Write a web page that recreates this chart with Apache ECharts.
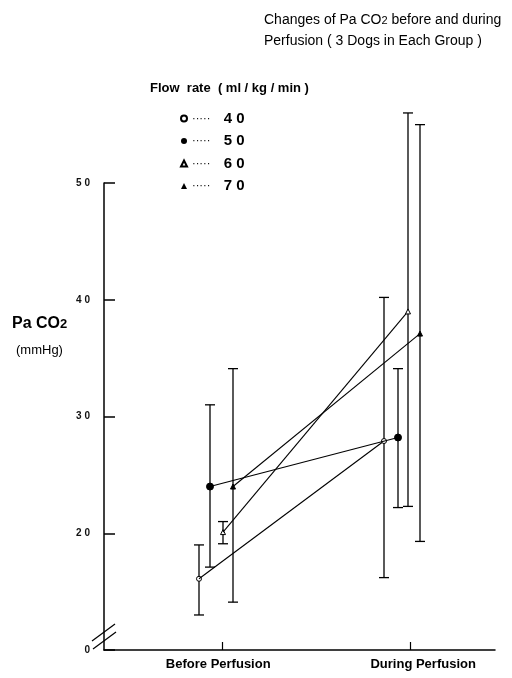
<!DOCTYPE html>
<html>
<head>
<meta charset="utf-8">
<script src="https://cdn.jsdelivr.net/npm/echarts@6/dist/echarts.min.js"></script>
<style>html,body{margin:0;padding:0;background:#fff}#c{width:512px;height:678px}</style>
</head>
<body>
<div id="c"></div>
<script>
// ---- data ----
const categories = ['Before Perfusion', 'During Perfusion'];
const flowRates = ['40', '50', '60', '70'];
const mean40 = [16.1, 27.9], low40 = [13.0, 16.2], high40 = [19.0, 40.2];
const mean50 = [24.0, 28.2], low50 = [17.1, 22.2], high50 = [31.0, 34.1];
const mean60 = [20.1, 39.0], low60 = [19.1, 22.3], high60 = [21.0, 56.0];
const mean70 = [24.0, 37.1], low70 = [14.1, 19.3], high70 = [34.1, 55.0];
const yTickValues = [10, 20, 30, 40, 50];
const yTickLabels = ['0', '20', '30', '40', '50'];

// ---- layout / style (not data) ----
const offsetsPx = { '40': [-23, -26], '50': [-12, -12], '60': [1, -2], '70': [11, 10] };
const symbols = { '40': 'emptyCircle', '50': 'circle', '60': 'emptyTriangle', '70': 'triangle' };
const symbolSizes = { '40': 5, '50': 7, '60': 5, '70': 5 };
const groups = {
  '40': [mean40, low40, high40],
  '50': [mean50, low50, high50],
  '60': [mean60, low60, high60],
  '70': [mean70, low70, high70]
};

const chart = echarts.init(document.getElementById('c'), null, { renderer: 'canvas' });

function makeSeries(rate) {
  const [m, lo, hi] = groups[rate];
  const data = categories.map((c, i) => [i + 1, m[i], lo[i], hi[i]]);
  return {
    name: rate,
    type: 'custom',
    clip: false,
    itemStyle: { color: '#000' },
    encode: { x: 0, y: 1 },
    data: data,
    z: 5,
    renderItem: function (params, api) {
      const i = params.dataIndex;
      const off = offsetsPx[rate][i];
      const p = api.coord([api.value(0), api.value(1)]);
      const pl = api.coord([api.value(0), api.value(2)]);
      const ph = api.coord([api.value(0), api.value(3)]);
      const x = p[0] + off;
      const cap = 5;
      const ls = { stroke: '#000', lineWidth: 1.3 };
      const children = [];
      if (i === 1) {
        const p0 = api.coord([1, m[0]]);
        children.push({ type: 'line', shape: { x1: p0[0] + offsetsPx[rate][0], y1: p0[1], x2: x, y2: p[1] }, style: { stroke: '#000', lineWidth: 1.1 } });
      }
      children.push({ type: 'line', shape: { x1: x, y1: ph[1], x2: x, y2: pl[1] }, style: ls });
      children.push({ type: 'line', shape: { x1: x - cap, y1: ph[1], x2: x + cap, y2: ph[1] }, style: ls });
      children.push({ type: 'line', shape: { x1: x - cap, y1: pl[1], x2: x + cap, y2: pl[1] }, style: ls });
      const sym = symbols[rate];
      const sz = symbolSizes[rate];
      const empty = sym.indexOf('empty') === 0;
      const shapeName = empty ? sym.slice(5).toLowerCase() : sym;
      if (shapeName === 'circle') {
        children.push({ type: 'circle', shape: { cx: x, cy: p[1], r: sz / 2 }, style: { fill: empty ? '#fff' : '#000', stroke: '#000', lineWidth: 1 } });
      } else {
        const h = sz;
        children.push({ type: 'polygon', shape: { points: [[x, p[1] - h / 2], [x + h / 2, p[1] + h / 2], [x - h / 2, p[1] + h / 2]] }, style: { fill: empty ? '#fff' : '#000', stroke: '#000', lineWidth: 1 } });
      }
      return { type: 'group', children: children };
    }
  };
}

const gridLeft = 104, gridRight = 17, plotW = 512 - gridLeft - gridRight;
const unitPx = 188, firstCatPx = 222;
const xMin = 1 - (firstCatPx - gridLeft) / unitPx;
const xMax = xMin + plotW / unitPx;

const option = {
  animation: false,
  backgroundColor: '#fff',
  textStyle: { fontFamily: 'Liberation Sans' },
  grid: { left: gridLeft, right: gridRight, top: 183, bottom: 28 },
  legend: {
    orient: 'vertical',
    left: 175,
    top: 106,
    itemWidth: 6,
    itemHeight: 6,
    itemGap: 7.5,
    data: flowRates.map(r => ({ name: r, icon: symbols[r] })),
    formatter: function (name) { return '{d|·····}    {n|' + name.split('').join(' ') + '}'; },
    textStyle: {
      color: '#000',
      rich: {
        d: { fontSize: 11, color: '#000', lineHeight: 16 },
        n: { fontSize: 15, fontWeight: 'bold', color: '#000', lineHeight: 16 }
      }
    },
    selectedMode: false
  },
  xAxis: {
    type: 'value',
    min: xMin,
    max: xMax,
    splitLine: { show: false },
    axisLine: { show: true, lineStyle: { color: '#000', width: 1.5 } },
    axisTick: { show: true, inside: true, length: 8, customValues: [1, 2], lineStyle: { color: '#000', width: 1.2 } },
    axisLabel: {
      customValues: [0.98, 2.07],
      margin: 8,
      fontSize: 13,
      fontWeight: 'bold',
      color: '#000',
      formatter: function (v) { return v < 1.5 ? categories[0] : categories[1]; }
    }
  },
  yAxis: {
    type: 'value',
    min: 10,
    max: 50,
    interval: 10,
    splitLine: { show: false },
    axisLine: { show: true, lineStyle: { color: '#000', width: 1.5 } },
    axisTick: { show: true, inside: true, length: 11, lineStyle: { color: '#000', width: 1.5 } },
    axisLabel: {
      margin: 14,
      fontSize: 10,
      fontWeight: 'bold',
      color: '#111',
      formatter: function (v) {
        const k = yTickValues.indexOf(v);
        return k >= 0 ? yTickLabels[k].split('').join(' ') : '';
      }
    }
  },
  graphic: [
    {
      type: 'text', left: 264, top: 10,
      style: {
        text: 'Changes of Pa CO{s|2} before and during\nPerfusion ( 3 Dogs in Each Group )',
        fontSize: 14, fontFamily: 'Liberation Sans', fill: '#000', lineHeight: 21,
        rich: { s: { fontSize: 11, fontFamily: 'Liberation Sans', fill: '#000' } }
      }
    },
    {
      type: 'text', left: 150, top: 82,
      style: { text: 'Flow  rate  ( ml / kg / min )', fontSize: 13, fontWeight: 'bold', fontFamily: 'Liberation Sans', fill: '#000' }
    },
    {
      type: 'text', left: 12, top: 316,
      style: { text: 'Pa CO{s|2}', fontSize: 16, fontWeight: 'bold', fontFamily: 'Liberation Sans', fill: '#000',
        rich: { s: { fontSize: 13, fontWeight: 'bold', fontFamily: 'Liberation Sans', fill: '#000' } } }
    },
    {
      type: 'text', left: 16, top: 344,
      style: { text: '(mmHg)', fontSize: 13, fontFamily: 'Liberation Sans', fill: '#000' }
    },
    { type: 'line', shape: { x1: 92, y1: 641, x2: 115, y2: 624 }, style: { stroke: '#000', lineWidth: 1.2 } },
    { type: 'line', shape: { x1: 93, y1: 649, x2: 116, y2: 632 }, style: { stroke: '#000', lineWidth: 1.2 } }
  ],
  series: flowRates.map(makeSeries)
};
chart.setOption(option);
</script>
</body>
</html>
